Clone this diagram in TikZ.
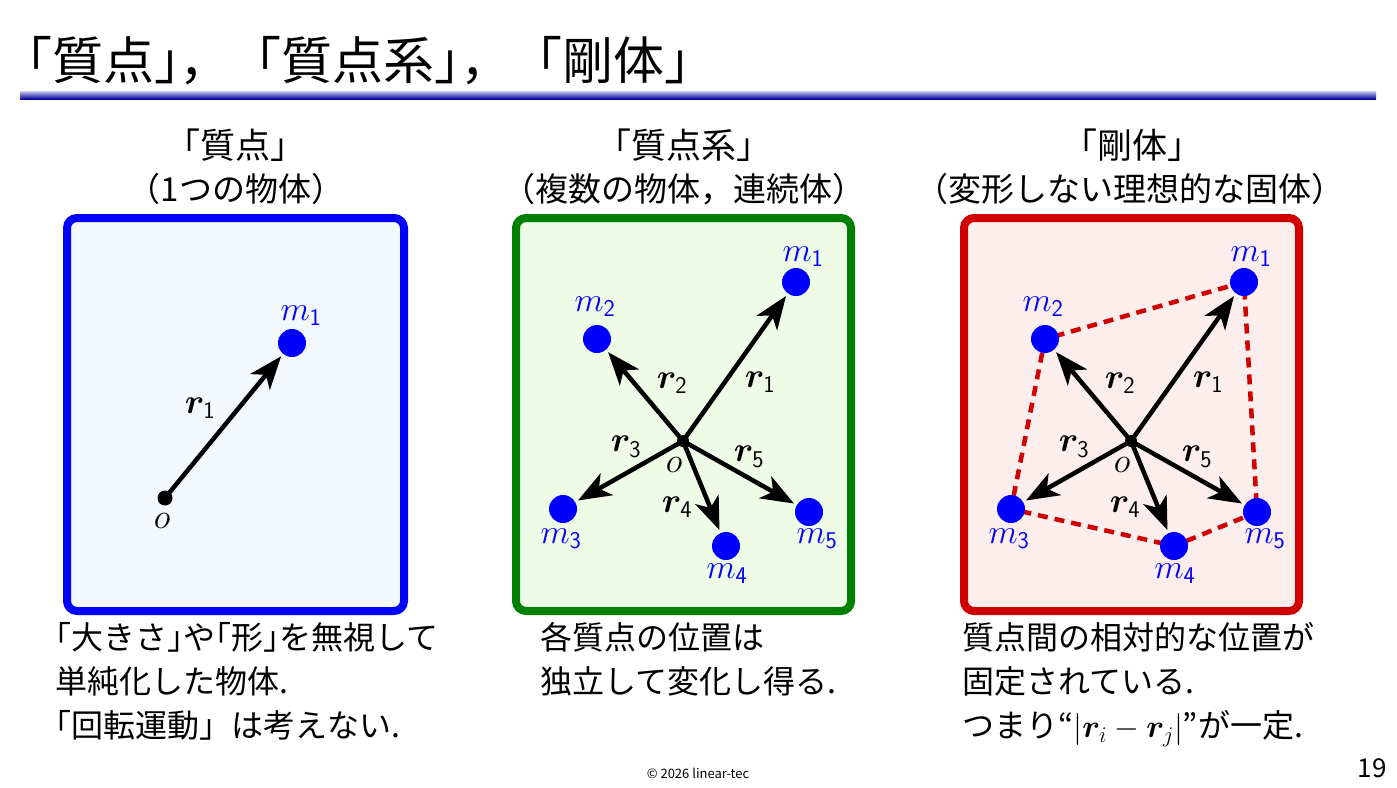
\RequirePackage{fix-cm}
\documentclass[tikz,border=0pt]{standalone}
\usepackage{fontspec}
\usepackage{amsmath,bm}
\setmainfont{Noto Sans CJK JP}
\newfontfamily\jphalf{Noto Sans CJK JP}[RawFeature=+halt]
\usetikzlibrary{arrows.meta,backgrounds}

\definecolor{massblue}{RGB}{0,0,255}
\definecolor{panelblue}{RGB}{0,0,255}
\definecolor{fillblue}{RGB}{243,248,253}
\definecolor{panelgreen}{RGB}{0,128,0}
\definecolor{fillgreen}{RGB}{238,251,230}
\definecolor{panelred}{RGB}{208,0,0}
\definecolor{fillred}{RGB}{253,238,238}
\definecolor{rulelight}{RGB}{200,200,240}
\definecolor{ruledark}{RGB}{0,0,150}

\newcommand{\jsize}[1]{\fontsize{#1}{#1}\selectfont}
\newcommand{\sfsub}[1]{_{\mbox{\sffamily\fontsize{24}{24}\selectfont #1}}}
\newcommand{\hlb}{{\jphalf 「}}
\newcommand{\hrb}{{\jphalf 」}}

\begin{document}
\begin{tikzpicture}[x=1pt,y=-1pt,>={Stealth[length=33pt,width=25pt,inset=9pt]},
  mass/.style={circle,fill=massblue,inner sep=0pt,minimum size=28pt},
  orig/.style={circle,fill=black,inner sep=0pt,minimum size=12pt},
  vec/.style={->,line width=4.5pt,shorten >=3pt},
  mlabel/.style={text=massblue,font=\jsize{34}},
  rlabel/.style={font=\jsize{35}},
  link/.style={draw=panelred,line width=4.5pt,dash pattern=on 10pt off 7pt},
  panel/.style={rounded corners=10pt,line width=8pt},
  head/.style={font=\jsize{35}},
  subhead/.style={font=\jsize{33}},
  note/.style={font=\fontsize{32}{44}\selectfont,align=left,anchor=north west,inner sep=0pt}]

\useasboundingbox (0,0) rectangle (1397,787);

% Titel und Linie
\node[anchor=base west,inner sep=0pt,font=\jsize{51}] (title) at (1,79) {「質点\hrb，「質点系\hrb，「剛体\hrb};
\shade[top color=rulelight,bottom color=ruledark] (20,91) rectangle (1376,99);

% Rahmen
\begin{scope}[on background layer]
\draw[panel,draw=panelblue,fill=fillblue] (67,218) rectangle (404,611);
\draw[panel,draw=panelgreen,fill=fillgreen] (516,218) rectangle (851,611);
\draw[panel,draw=panelred,fill=fillred] (964,218) rectangle (1299,611);
\end{scope}

% Ueberschriften
\node[head] (h1) at (235,145) {「質点」};
\node[subhead] (s1) at (236,189) {（1つの物体）};
\node[head] (h2) at (684,145) {「質点系」};
\node[subhead] (s2) at (684,189) {（複数の物体，連続体）};
\node[head] (h3) at (1132,145) {「剛体」};
\node[subhead] (s3) at (1130,189) {（変形しない理想的な固体）};

% Teilbild links: Massenpunkt
\node[orig,minimum size=15pt] (o1) at (165,498) {};
\node[mass] (m1) at (292,343) {};
\draw[vec] (o1.center) -- (m1);
\node[rlabel] (lo1) at (162,521) {$o$};
\node[mlabel] (lm1) at (301,316) {$m\sfsub{1}$};
\node[rlabel] (lr1) at (200,408) {$\bm{r}\sfsub{1}$};

% Teilbild Mitte: Massenpunktsystem
\node[orig] (o2) at (683,441) {};
\node[mass] (m21) at (796,282) {};
\node[mass] (m22) at (597,339) {};
\node[mass] (m23) at (563,509) {};
\node[mass] (m24) at (726,546) {};
\node[mass] (m25) at (809,512) {};
\draw[vec] (o2.center) -- (m21);
\draw[vec] (o2.center) -- (m22);
\draw[vec] (o2.center) -- (m23);
\draw[vec] (o2.center) -- (m24);
\draw[vec] (o2.center) -- (m25);
\node[rlabel] (lo2) at (674,465) {$o$};
\node[mlabel] (lm21) at (803,257) {$m\sfsub{1}$};
\node[mlabel] (lm22) at (595,307) {$m\sfsub{2}$};
\node[mlabel] (lm23) at (561,539) {$m\sfsub{3}$};
\node[mlabel] (lm24) at (727,574) {$m\sfsub{4}$};
\node[mlabel] (lm25) at (817,539) {$m\sfsub{5}$};
\node[rlabel] (lr21) at (760,382) {$\bm{r}\sfsub{1}$};
\node[rlabel] (lr22) at (672,383) {$\bm{r}\sfsub{2}$};
\node[rlabel] (lr23) at (626,447) {$\bm{r}\sfsub{3}$};
\node[rlabel] (lr24) at (677,507) {$\bm{r}\sfsub{4}$};
\node[rlabel] (lr25) at (749,457) {$\bm{r}\sfsub{5}$};

% Teilbild rechts: starrer Koerper
\node[orig] (o3) at (1131,441) {};
\node[mass] (m31) at (1244,282) {};
\node[mass] (m32) at (1045,339) {};
\node[mass] (m33) at (1011,509) {};
\node[mass] (m34) at (1174,546) {};
\node[mass] (m35) at (1257,512) {};
\begin{scope}[on background layer]
\draw[link] (m31.center) -- (m32.center) -- (m33.center) -- (m34.center) -- (m35.center) -- cycle;
\end{scope}
\draw[vec] (o3.center) -- (m31);
\draw[vec] (o3.center) -- (m32);
\draw[vec] (o3.center) -- (m33);
\draw[vec] (o3.center) -- (m34);
\draw[vec] (o3.center) -- (m35);
\node[rlabel] (lo3) at (1122,465) {$o$};
\node[mlabel] (lm31) at (1251,257) {$m\sfsub{1}$};
\node[mlabel] (lm32) at (1043,307) {$m\sfsub{2}$};
\node[mlabel] (lm33) at (1009,539) {$m\sfsub{3}$};
\node[mlabel] (lm34) at (1175,574) {$m\sfsub{4}$};
\node[mlabel] (lm35) at (1265,539) {$m\sfsub{5}$};
\node[rlabel] (lr31) at (1208,382) {$\bm{r}\sfsub{1}$};
\node[rlabel] (lr32) at (1120,383) {$\bm{r}\sfsub{2}$};
\node[rlabel] (lr33) at (1074,447) {$\bm{r}\sfsub{3}$};
\node[rlabel] (lr34) at (1125,507) {$\bm{r}\sfsub{4}$};
\node[rlabel] (lr35) at (1197,457) {$\bm{r}\sfsub{5}$};

% Erlaeuterungen
\node[note] (n1) at (55,622) {\hlb 大きさ\hrb や\hlb 形\hrb を無視して\\ 単純化した物体.\\ \hlb 回転運動」は考えない.};
\node[note] (n2) at (540,622) {各質点の位置は\\ 独立して変化し得る.};
\node[note] (n3) at (962,622) {質点間の相対的な位置が\\ 固定されている.\\ つまり{\jphalf “}$|\bm{r}_i - \bm{r}_j|${\jphalf ”}が一定.};

% Fusszeile
\node[font=\jsize{13}] (copy) at (698,773) {© 2026 linear-tec};
\node[font=\jsize{26}] (page) at (1372,768) {19};

\end{tikzpicture}
\end{document}
